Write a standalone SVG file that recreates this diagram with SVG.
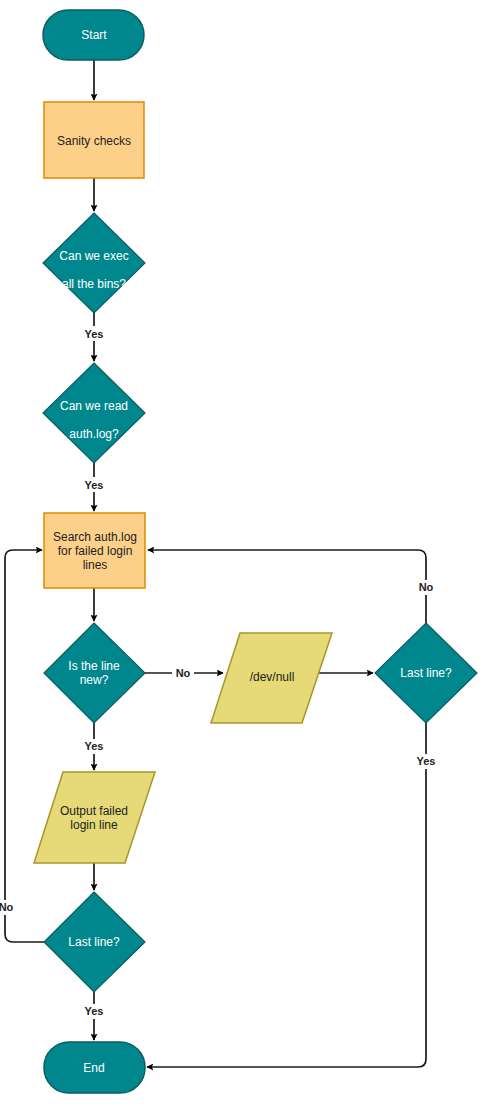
<svg xmlns="http://www.w3.org/2000/svg" width="496" height="1113" viewBox="0 0 496 1113">
<style>
.term{fill:#00878d;stroke:#0c5c60;stroke-width:1.5}
.proc{fill:#fdd08a;stroke:#e08a00;stroke-width:1.5}
.dec{fill:#00878d;stroke:#0c5c60;stroke-width:1.2}
.io{fill:#e6d977;stroke:#a8962c;stroke-width:1.5}
text{font-family:"Liberation Sans",Arial,sans-serif;font-size:12px;text-anchor:middle;dominant-baseline:central}
.w{fill:#ffffff}
.d{fill:#222222}
.lbl{font-weight:bold;fill:#222222;font-size:11px}
.edge{fill:none;stroke:#1a1a1a;stroke-width:1.7}
.lblbg{fill:#ffffff}
</style>
<defs>
<marker id="arr" viewBox="0 0 10 10" refX="9" refY="5" markerWidth="7" markerHeight="7" markerUnits="userSpaceOnUse" orient="auto">
<path d="M0,0 L10,5 L0,10 L2,5 Z" fill="#000"/>
</marker>
</defs>
<g id="connectors">
<path class="edge" d="M94,60 V100" marker-end="url(#arr)"/>
<path class="edge" d="M94,178 V211" marker-end="url(#arr)"/>
<path class="edge" d="M94,313 V361" marker-end="url(#arr)"/>
<path class="edge" d="M94,463 V511" marker-end="url(#arr)"/>
<path class="edge" d="M94,588 V621" marker-end="url(#arr)"/>
<path class="edge" d="M145,673 H223" marker-end="url(#arr)"/>
<path class="edge" d="M316,673 H373" marker-end="url(#arr)"/>
<path class="edge" d="M426,623 V558 Q426,550 418,550 H148" marker-end="url(#arr)"/>
<path class="edge" d="M426,723 V1059 Q426,1067 418,1067 H147" marker-end="url(#arr)"/>
<path class="edge" d="M94,723 V770" marker-end="url(#arr)"/>
<path class="edge" d="M94,863 V890" marker-end="url(#arr)"/>
<path class="edge" d="M44,942 H13 Q5,942 5,934 V558 Q5,550 13,550 H42" marker-end="url(#arr)"/>
<path class="edge" d="M94,992 V1040" marker-end="url(#arr)"/>
<rect class="lblbg" x="82" y="326" width="24" height="15"/>
<text class="lbl" x="94" y="334">Yes</text>
<rect class="lblbg" x="82" y="477" width="24" height="15"/>
<text class="lbl" x="94" y="485">Yes</text>
<rect class="lblbg" x="172" y="666" width="22" height="15"/>
<text class="lbl" x="183" y="673">No</text>
<rect class="lblbg" x="416" y="580" width="20" height="15"/>
<text class="lbl" x="426" y="587">No</text>
<rect class="lblbg" x="414" y="754" width="24" height="15"/>
<text class="lbl" x="426" y="761">Yes</text>
<rect class="lblbg" x="82" y="739" width="24" height="15"/>
<text class="lbl" x="94" y="746">Yes</text>
<rect class="lblbg" x="-4" y="900" width="20" height="15"/>
<text class="lbl" x="6" y="907">No</text>
<rect class="lblbg" x="82" y="1004" width="24" height="15"/>
<text class="lbl" x="94" y="1011">Yes</text>
</g>
<g id="start">
<rect class="term" x="43" y="10" width="101" height="50" rx="25" ry="25"/>
<text class="w" x="94" y="35">Start</text>
</g>
<g id="sanity">
<rect class="proc" x="44" y="102" width="100" height="76"/>
<text class="d" x="94" y="141">Sanity checks</text>
</g>
<g id="exec">
<polygon class="dec" points="94,213 145,263 94,313 43,263"/>
<text class="w" x="94" y="256">Can we exec</text>
<text class="w" x="94" y="284">all the bins?</text>
</g>
<g id="read">
<polygon class="dec" points="94,363 145,413 94,463 43,413"/>
<text class="w" x="94" y="406">Can we read</text>
<text class="w" x="94" y="434">auth.log?</text>
</g>
<g id="search">
<rect class="proc" x="44" y="513" width="101" height="75"/>
<text class="d" x="95" y="537">Search auth.log</text>
<text class="d" x="95" y="551">for failed login</text>
<text class="d" x="95" y="565">lines</text>
</g>
<g id="isnew">
<polygon class="dec" points="94,623 145,673 94,723 44,673"/>
<text class="w" x="94" y="666">Is the line</text>
<text class="w" x="94" y="680">new?</text>
</g>
<g id="devnull">
<polygon class="io" points="240,633 332,633 302,723 211,723"/>
<text class="d" x="272" y="677">/dev/null</text>
</g>
<g id="lastline1">
<polygon class="dec" points="426,623 477,673 426,723 375,673"/>
<text class="w" x="426" y="673">Last line?</text>
</g>
<g id="output">
<polygon class="io" points="63,772 155,772 125,863 34,863"/>
<text class="d" x="94" y="811">Output failed</text>
<text class="d" x="94" y="825">login line</text>
</g>
<g id="lastline2">
<polygon class="dec" points="94,892 145,942 94,992 44,942"/>
<text class="w" x="94" y="942">Last line?</text>
</g>
<g id="end">
<rect class="term" x="44" y="1042" width="101" height="51" rx="25" ry="25"/>
<text class="w" x="94" y="1068">End</text>
</g>
</svg>
